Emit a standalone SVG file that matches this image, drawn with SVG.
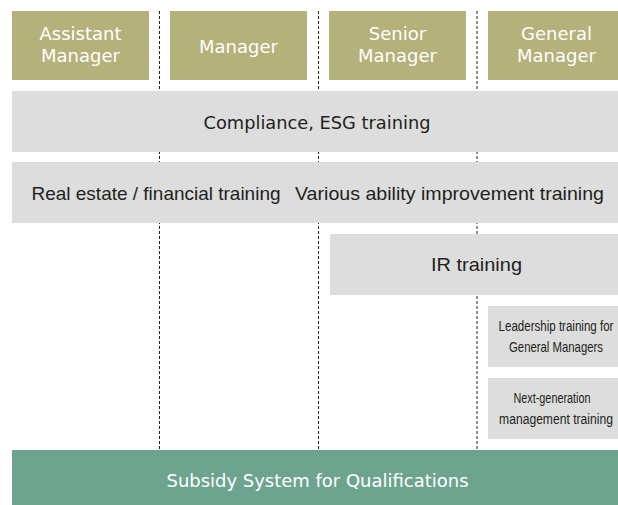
<svg xmlns="http://www.w3.org/2000/svg" width="618" height="505" viewBox="0 0 618 505">
<style>
.hdr{fill:#b5b17a}
.band{fill:#dcdddc}
.green{fill:#6ca48f}
.ht{font-family:"DejaVu Sans",sans-serif;font-size:18px;fill:#ffffff;text-anchor:middle}
.bt{font-family:"Liberation Sans",Arial,sans-serif;font-size:19px;fill:#231f20;text-anchor:middle}
.bt2{font-family:"DejaVu Sans",sans-serif;font-size:18px;fill:#231f20;text-anchor:middle}
.st{font-family:"Liberation Sans",Arial,sans-serif;font-size:15px;fill:#231f20;text-anchor:middle}
.dash{stroke:#231f20;stroke-width:1;stroke-dasharray:3 2;fill:none}
</style>
<rect width="618" height="505" fill="#ffffff"/>
<g id="connectors">
<line class="dash" x1="159.5" y1="11" x2="159.5" y2="450"/>
<line class="dash" x1="318.5" y1="11" x2="318.5" y2="450"/>
<line class="dash" x1="477" y1="11" x2="477" y2="450"/>
</g>
<g id="assistant-manager">
<rect class="hdr" x="12" y="11" width="137" height="69"/>
<text class="ht" x="80.5" y="39.5">Assistant</text>
<text class="ht" x="80.5" y="61.5">Manager</text>
</g>
<g id="manager">
<rect class="hdr" x="170" y="11" width="137" height="69"/>
<text class="ht" x="238.5" y="52.5">Manager</text>
</g>
<g id="senior-manager">
<rect class="hdr" x="329" y="11" width="137" height="69"/>
<text class="ht" x="397.5" y="39.5">Senior</text>
<text class="ht" x="397.5" y="61.5">Manager</text>
</g>
<g id="general-manager">
<rect class="hdr" x="488" y="11" width="130" height="69"/>
<text class="ht" x="556.5" y="39.5">General</text>
<text class="ht" x="556.5" y="61.5">Manager</text>
</g>
<g id="compliance">
<rect class="band" x="12" y="91" width="606" height="61"/>
<text class="bt2" x="317" y="128.5" textLength="227" lengthAdjust="spacingAndGlyphs">Compliance, ESG training</text>
</g>
<g id="ability">
<rect class="band" x="12" y="162" width="606" height="61"/>
<text class="bt" x="156" y="199.5" textLength="249" lengthAdjust="spacingAndGlyphs">Real estate / financial training</text>
<text class="bt" x="449.5" y="199.5" textLength="309" lengthAdjust="spacingAndGlyphs">Various ability improvement training</text>
</g>
<g id="ir-training">
<rect class="band" x="330" y="234" width="288" height="61"/>
<text class="bt" x="476.5" y="271" textLength="91" lengthAdjust="spacingAndGlyphs">IR training</text>
</g>
<g id="leadership-training">
<rect class="band" x="488" y="306" width="130" height="61"/>
<text class="st" transform="translate(556 330.5) scale(0.771 1)">Leadership training for</text>
<text class="st" transform="translate(556 351.5) scale(0.757 1)">General Managers</text>
</g>
<g id="next-generation">
<rect class="band" x="488" y="378" width="130" height="61"/>
<text class="st" transform="translate(552 402.5) scale(0.722 1)">Next-generation</text>
<text class="st" transform="translate(556 423.5) scale(0.809 1)">management training</text>
</g>
<g id="subsidy">
<rect class="green" x="12" y="450" width="606" height="55"/>
<text class="ht" x="317.5" y="487" textLength="302" lengthAdjust="spacingAndGlyphs">Subsidy System for Qualifications</text>
</g>
</svg>
